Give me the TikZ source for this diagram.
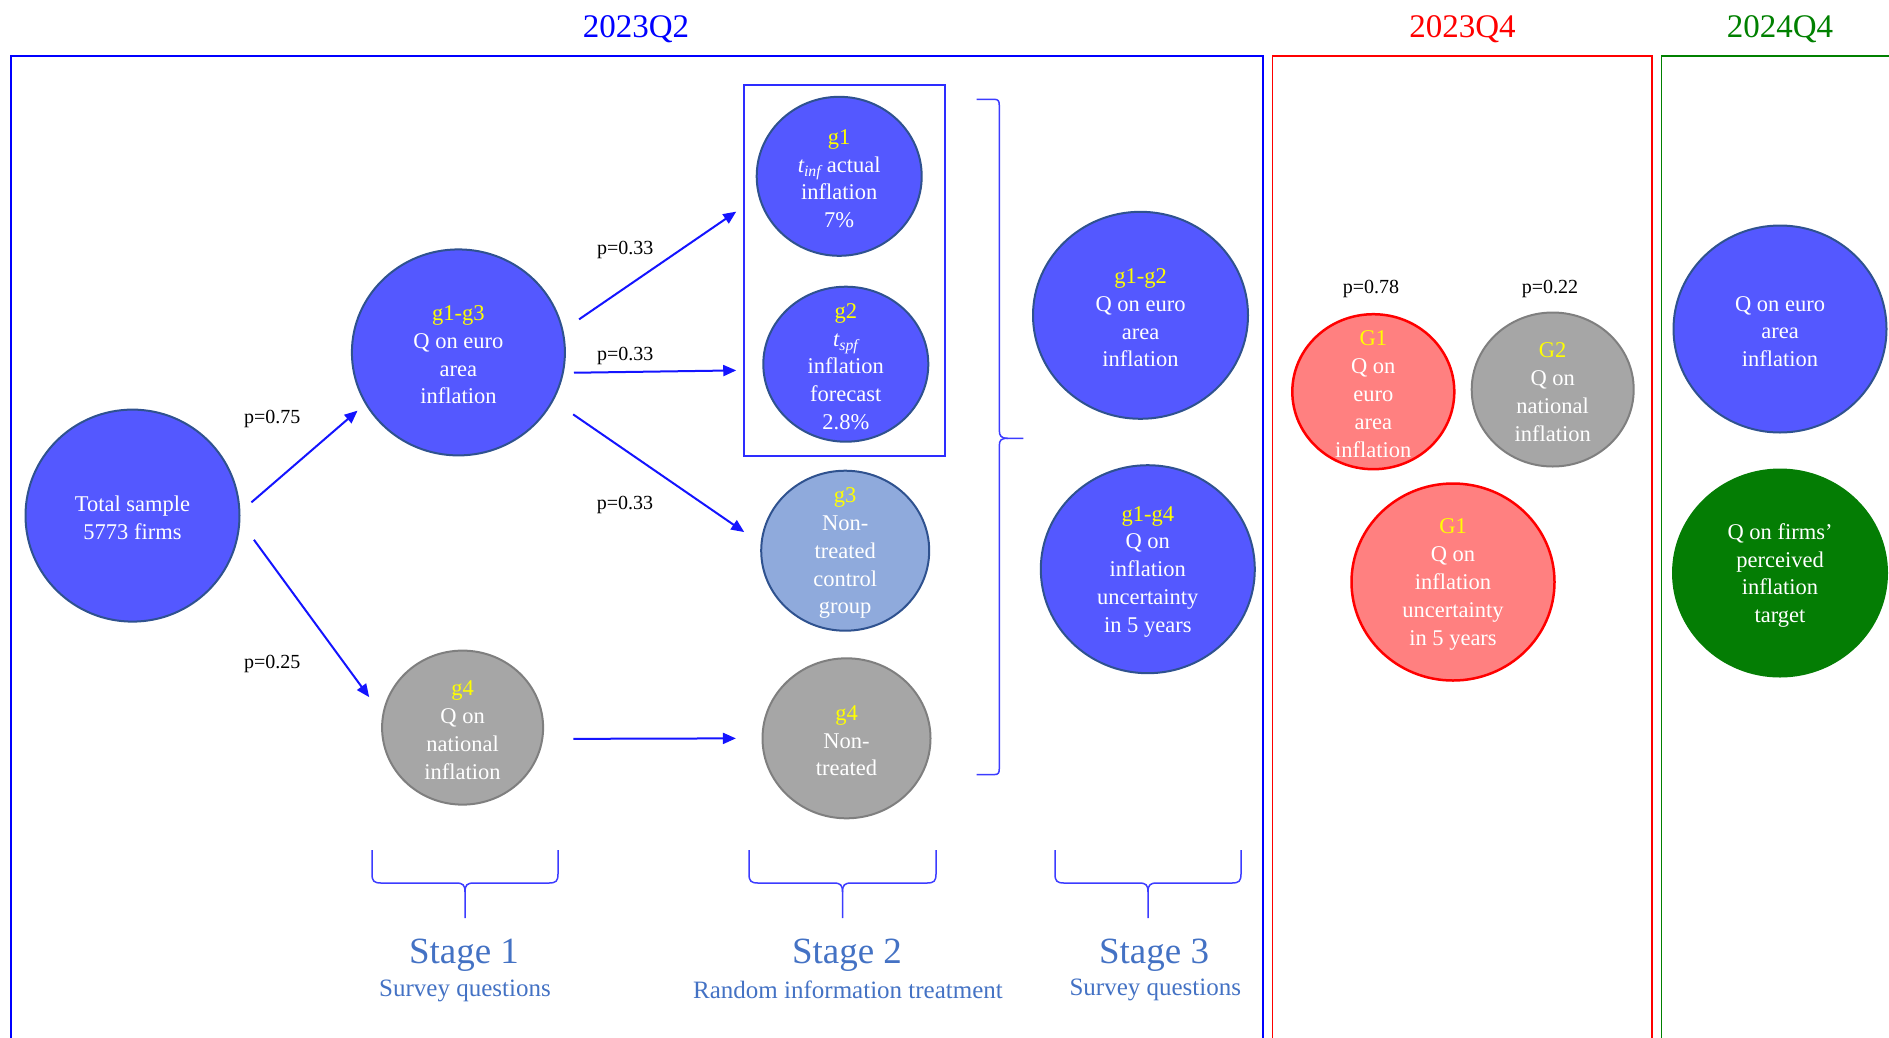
\documentclass[tikz,border=0pt]{standalone}
\usepackage{fontspec}
\setmainfont{Liberation Serif}
\usetikzlibrary{shapes.geometric,arrows.meta}
\definecolor{nodeblue}{RGB}{84,88,255}
\definecolor{edgeblue}{RGB}{47,82,143}
\definecolor{ngray}{RGB}{166,166,166}
\definecolor{egray}{RGB}{127,127,127}
\definecolor{lblue}{RGB}{143,170,220}
\definecolor{nred}{RGB}{255,128,128}
\definecolor{ngreen}{RGB}{4,125,4}
\definecolor{hgreen}{RGB}{0,128,0}
\definecolor{stageblue}{RGB}{68,114,196}
\definecolor{arrblue}{RGB}{20,20,255}
\definecolor{yel}{RGB}{255,255,0}
\definecolor{bracecol}{RGB}{60,60,255}
\definecolor{boxblue}{RGB}{45,45,255}
\newcommand\mybub[6]{\node[#1,minimum width=#4,minimum height=#5] (#2) at #3 {};
  \node[txt] (#2t) at (#2) {#6};}
\newcommand\downbrace[2]{%
 \draw[brc] (#1,850) -- (#1,874) .. controls (#1,881) and ({#1+2},883) .. ({#1+9},883) -- ({(#1+#2)/2-9},883) .. controls ({(#1+#2)/2-2},883) and ({(#1+#2)/2},885) .. ({(#1+#2)/2},892) -- ({(#1+#2)/2},918);
 \draw[brc] (#2,850) -- (#2,874) .. controls (#2,881) and ({#2-2},883) .. ({#2-9},883) -- ({(#1+#2)/2+9},883) .. controls ({(#1+#2)/2+2},883) and ({(#1+#2)/2},885) .. ({(#1+#2)/2},892);}
\newcommand\gl[1]{\textcolor{yel}{#1}}
\begin{document}
\begin{tikzpicture}[x=1pt,y=-1pt,
  bub/.style={ellipse,draw,line width=2pt,inner sep=0pt},
  bbl/.style={bub,fill=nodeblue,draw=edgeblue},
  bgr/.style={bub,fill=ngray,draw=egray},
  blt/.style={bub,fill=lblue,draw=edgeblue},
  brd/.style={bub,fill=nred,draw=red,line width=2.5pt},
  bgn/.style={bub,fill=ngreen,draw=ngreen},
  txt/.style={text=white,align=center,inner sep=0pt,yshift=-2.5pt,font=\fontsize{22.5}{27.8}\selectfont},
  plab/.style={text=black,inner sep=0pt,yshift=-2.5pt,font=\fontsize{20}{24}\selectfont},
  arr/.style={draw=arrblue,line width=2pt,-{Triangle[length=13pt,width=11pt]}},
  frame/.style={line width=1.8pt},
  brc/.style={draw=bracecol,line width=1.5pt},
  hdr/.style={font=\fontsize{33}{38}\selectfont,inner sep=0pt,yshift=-2.5pt},
  stg/.style={text=stageblue,font=\fontsize{37}{42}\selectfont,inner sep=0pt,yshift=-4.5pt},
  subt/.style={text=stageblue,font=\fontsize{25}{30}\selectfont,inner sep=0pt,yshift=-3pt}]
\useasboundingbox (0,0) rectangle (1889,1037);
% headers
\node[hdr,text=blue] (h1) at (636,27) {2023Q2};
\node[hdr,text=red] (h2) at (1462.5,27) {2023Q4};
\node[hdr,text=hgreen] (h3) at (1780,27) {2024Q4};
% frames
\draw[frame,draw=blue] (11,1045) -- (11,56) -- (1263,56) -- (1263,1045);
\draw[frame,draw=red] (1272.5,1045) -- (1272.5,56) -- (1652,56) -- (1652,1045);
\draw[frame,draw=hgreen] (1661.5,1045) -- (1661.5,56) -- (1895,56);
% treatment box
\draw[draw=boxblue,line width=2.5pt] (744,85) rectangle (945,456);
% nodes
\mybub{bbl}{total}{(132.5,515.6)}{214}{212}{Total sample\\5773 firms}
\mybub{bbl}{s1a}{(458.4,352.4)}{213}{206}{\gl{g1-g3}\\Q on euro\\area\\inflation}
\mybub{bgr}{s1b}{(462.6,727.6)}{161}{154}{\gl{g4}\\Q on\\national\\inflation}
\mybub{bbl}{t1}{(839.2,176.3)}{165}{159}{\gl{g1}\\{\itshape t}\textsubscript{\itshape inf} actual\\inflation\\7\%}
\mybub{bbl}{t2}{(845.8,364.2)}{165}{155}{\gl{g2}\\{\itshape t}\textsubscript{\itshape spf}\\inflation\\forecast\\2.8\%}
\mybub{blt}{t3}{(845.2,550.7)}{168}{160}{\gl{g3}\\Non-\\treated\\control\\group}
\mybub{bgr}{t4}{(846.5,738.3)}{168}{160}{\gl{g4}\\Non-\\treated}
\mybub{bbl}{s3a}{(1140.5,315.3)}{215}{207}{\gl{g1-g2}\\Q on euro\\area\\inflation}
\mybub{bbl}{s3b}{(1147.8,569.2)}{214}{208}{\gl{g1-g4}\\Q on\\inflation\\uncertainty\\in 5 years}
\mybub{brd}{r1}{(1373.3,391.7)}{162}{155}{\gl{G1}\\Q on\\euro\\area\\inflation}
\mybub{bgr}{r2}{(1552.7,389.5)}{162}{154}{\gl{G2}\\Q on\\national\\inflation}
\mybub{brd}{r3}{(1453,582)}{203}{197}{\gl{G1}\\Q on\\inflation\\uncertainty\\in 5 years}
\mybub{bbl}{q1}{(1780,329)}{213}{207}{Q on euro\\area\\inflation}
\mybub{bgn}{q2}{(1780,573)}{214}{207}{Q on firms’\\perceived\\inflation\\target}
% arrows
\draw[arr,shorten <=14.5pt,shorten >=10pt] (total.2) -- (s1a.209.5);
\draw[arr,shorten <=23pt,shorten >=22pt] (total.357.7) -- (s1b.171.9);
\draw[arr,shorten <=19pt,shorten >=26.8pt] (s1a.12.2) -- (t1.194.6);
\draw[arr,shorten <=10.2pt,shorten >=26.3pt] (s1a.349.9) -- (t2.184.7);
\draw[arr,shorten <=23.8pt,shorten >=19.8pt] (s1a.333.4) -- (t3.175.2);
\draw[arr,shorten <=30.2pt,shorten >=25.6pt] (s1b.352.4) -- (t4.180);
% probability labels
\node[plab] (p1) at (272.3,416) {p=0.75};
\node[plab] (p2) at (272.3,661.4) {p=0.25};
\node[plab] (p3) at (625.2,247) {p=0.33};
\node[plab] (p4) at (625.2,353) {p=0.33};
\node[plab] (p5) at (625,502.7) {p=0.33};
\node[plab] (p6) at (1371,286) {p=0.78};
\node[plab] (p7) at (1550,286) {p=0.22};
% right brace
\draw[brc] (976.7,99.3) -- (994,99.3) .. controls (998.5,99.3) and (999.3,101) .. (999.3,106) -- (999.3,430) .. controls (999.3,436) and (1001,438.3) .. (1008,438.3) -- (1023.3,438.3);
\draw[brc] (999.3,446) .. controls (999.3,440) and (1001,438.3) .. (1008,438.3);
\draw[brc] (999.3,446) -- (999.3,768) .. controls (999.3,773) and (998.5,774.6) .. (994,774.6) -- (976.7,774.6);
% bottom braces
\downbrace{372}{558}
\downbrace{749}{936}
\downbrace{1055}{1241}
% stage labels
\node[stg] (st1) at (464,950.5) {Stage 1};
\node[subt] (su1) at (465,988) {Survey questions};
\node[stg] (st2) at (847,950.5) {Stage 2};
\node[subt] (su2) at (848,987) {Random information treatment};
\node[stg] (st3) at (1154,950.5) {Stage 3};
\node[subt] (su3) at (1155.3,987) {Survey questions};
\end{tikzpicture}
\end{document}
